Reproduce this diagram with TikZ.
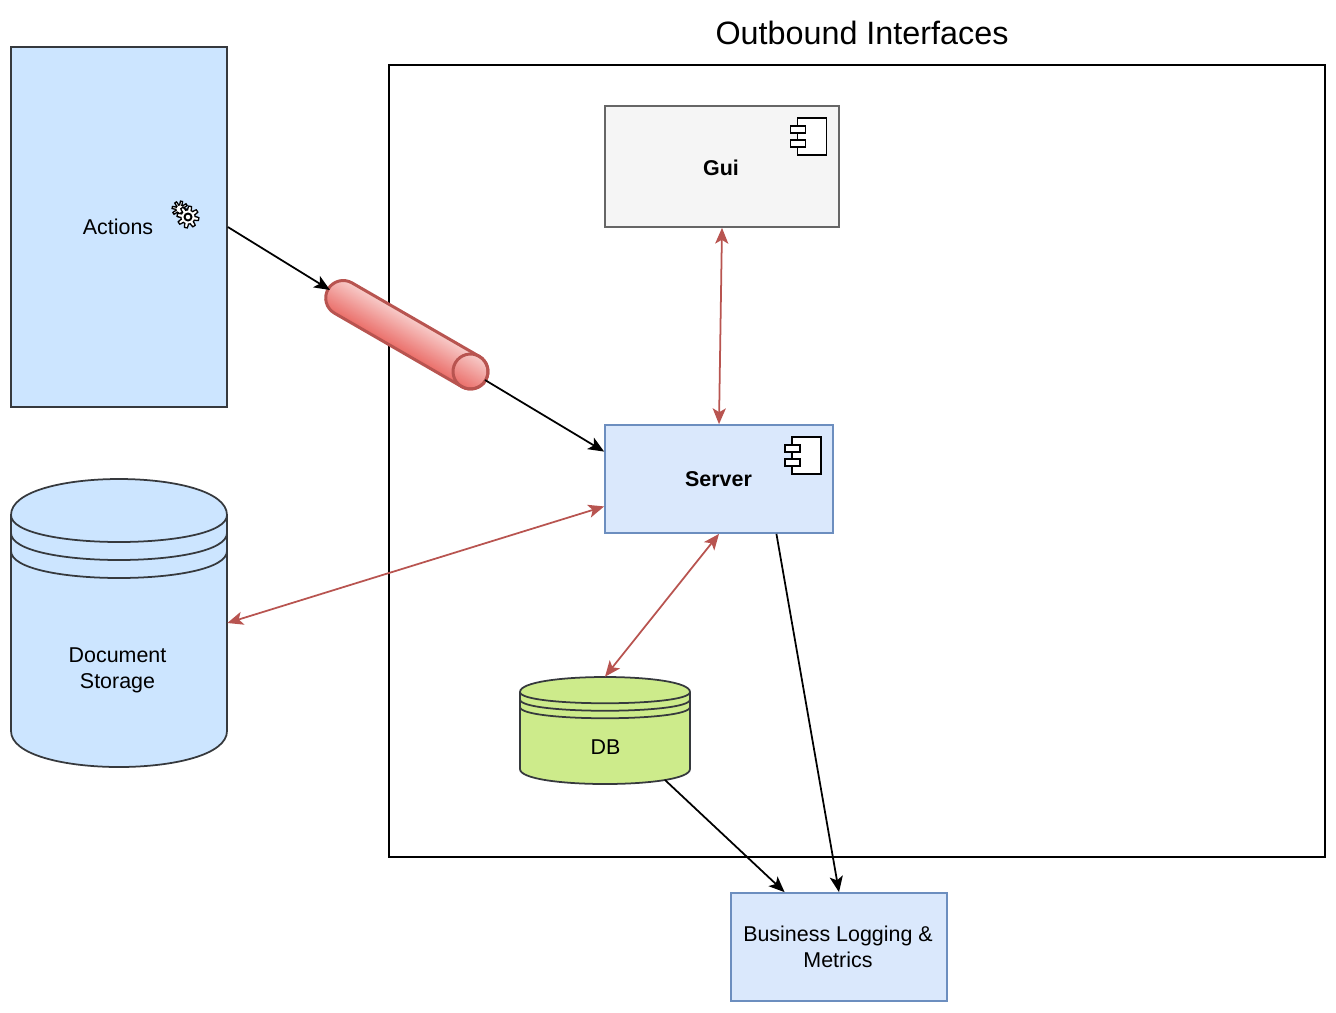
\documentclass[tikz,border=0pt]{standalone}
\usepackage{fontspec}
\setmainfont{Liberation Sans}
\usetikzlibrary{arrows.meta,calc}

\definecolor{actionblue}{HTML}{CCE5FF}
\definecolor{serverblue}{HTML}{DAE8FC}
\definecolor{serverline}{HTML}{6C8EBF}
\definecolor{guigray}{HTML}{F5F5F5}
\definecolor{guiline}{HTML}{666666}
\definecolor{darkline}{HTML}{36393D}
\definecolor{dbgreen}{HTML}{CDEB8B}
\definecolor{linkred}{HTML}{B85450}
\definecolor{pipelight}{HTML}{F8CECC}
\definecolor{pipedark}{HTML}{EA6B66}

\tikzset{
    boxnode/.style={draw, line width=1pt, inner sep=0pt, align=center, font=\fontsize{12.2}{14.8}\selectfont},
    textnode/.style={inner sep=0pt, align=center, font=\fontsize{12.2}{14.8}\selectfont},
    hullnode/.style={inner sep=0pt},
    blackline/.style={->, line width=1pt},
    redline/.style={<->, linkred, line width=1pt},
    pipeline/.style={linkred, line width=1.7pt}
}

% one cylinder with its three rings
\newcommand{\datastore}[6]{
    \filldraw[fill=#1, draw=darkline, line width=1pt]
        (#2,#3+#6) .. controls (#2,#3-#6/3) and (#2+#4,#3-#6/3) .. (#2+#4,#3+#6)
        -- (#2+#4,#3+#5-#6) .. controls (#2+#4,#3+#5+#6/3) and (#2,#3+#5+#6/3) .. (#2,#3+#5-#6) -- cycle;
    \foreach \ring in {1,1.5,2}
        \draw[darkline, line width=1pt]
            (#2,#3+\ring*#6) .. controls (#2,#3+\ring*#6+#6) and (#2+#4,#3+\ring*#6+#6) .. (#2+#4,#3+\ring*#6);
}

% the small component symbol
\newcommand{\compicon}[2]{
    \draw[fill=white, line width=1pt] (#1+7,#2) rectangle (#1+36,#2+37);
    \draw[fill=white, line width=1pt] (#1,#2+8) rectangle (#1+15,#2+15);
    \draw[fill=white, line width=1pt] (#1,#2+22) rectangle (#1+15,#2+29);
}

% one cog wheel
\newcommand{\cogwheel}[3]{
    \draw[fill=white, line width=0.75pt] plot[domain=0:360, samples=97]
        ({#1+(#3+1.9*sign(sin(8*\x)))*cos(\x)}, {#2+(#3+1.9*sign(sin(8*\x)))*sin(\x)}) -- cycle;
}

\begin{document}
\begin{tikzpicture}[x=0.02cm, y=-0.02cm, >={Stealth[length=9pt,width=7.5pt,inset=2.2pt]}]
    \useasboundingbox (0,0) rectangle (1336,1012);

    % big frame
    \node[draw, line width=1pt, inner sep=0pt, minimum width=18.72cm, minimum height=15.84cm] (frame) at (857,461) {};
    \node[textnode, font=\fontsize{18.4}{22}\selectfont] (title) at (862,33) {Outbound Interfaces};

    % boxes
    \node[boxnode, fill=actionblue, draw=darkline, minimum width=4.32cm, minimum height=7.2cm] (actions) at (119,227) {};
    \node[textnode] (actionstext) at (118,227) {Actions};
    \node[boxnode, fill=guigray, draw=guiline, minimum width=4.68cm, minimum height=2.42cm] (gui) at (722,166.5) {};
    \node[textnode, font=\fontsize{12.2}{14.8}\selectfont\bfseries] (guitext) at (721,168) {Gui};
    \node[boxnode, fill=serverblue, draw=serverline, minimum width=4.56cm, minimum height=2.16cm] (server) at (719,479) {};
    \node[textnode, font=\fontsize{12.2}{14.8}\selectfont\bfseries] (servertext) at (718.5,479) {Server};
    \node[boxnode, fill=serverblue, draw=serverline, minimum width=4.32cm, minimum height=2.16cm] (logging) at (839,947) {};
    \node[textnode] (loggingtext) at (838,947) {Business Logging \&\\Metrics};

    \compicon{790.5}{118}
    \compicon{785}{437}

    % cog wheels
    \cogwheel{180}{209}{6}
    \cogwheel{188}{217}{9}
    \draw[line width=1.1pt] (188,217) circle (3.5);

    % cylinders
    \datastore{actionblue}{11}{479}{216}{288}{36}
    \datastore{dbgreen}{520}{677}{170}{107}{15}
    \node[hullnode, minimum width=4.32cm, minimum height=5.76cm] (storage) at (119,623) {};
    \node[hullnode, minimum width=3.4cm, minimum height=2.14cm] (db) at (605,730.5) {};
    \node[textnode] (storagetext) at (117.5,670) {Document\\Storage};
    \node[textnode] (dbtext) at (605.5,747) {DB};

    % the pipe
    \coordinate (pipein) at (330,290);
    \coordinate (pipeout) at (485,380);
    \coordinate (dbout) at (665,780);
    \begin{scope}[shift={(470.5,371.5)}, rotate=-30, x=0.02cm, y=0.02cm]
        \begin{scope}
            \clip (-147,17.5) arc[start angle=90, end angle=270, radius=0.35cm]
                -- (0,-17.5) arc[start angle=-90, end angle=90, radius=0.35cm] -- cycle;
            \foreach \t [evaluate=\t as \mix using \t*100/36] in {0,...,36}
                \fill[color=pipedark!\mix!pipelight] (-170,18-\t) rectangle (30,-19);
        \end{scope}
        \draw[pipeline] (-147,17.5) arc[start angle=90, end angle=270, radius=0.35cm]
            -- (0,-17.5) arc[start angle=-90, end angle=90, radius=0.35cm] -- cycle;
        \draw[pipeline] (0,0) circle[radius=0.35cm];
    \end{scope}

    % connectors
    \draw[blackline] (actions.east) -- (pipein);
    \draw[blackline] (pipeout) -- ($(server.north west)!0.25!(server.south west)$);
    \draw[blackline] ($(server.south west)!0.75!(server.south east)$) -- (logging.north);
    \draw[blackline] (dbout) -- ($(logging.north west)!0.25!(logging.north east)$);
    \draw[redline] (gui.south) -- (server.north);
    \draw[redline] (storage.east) -- ($(server.north west)!0.75!(server.south west)$);
    \draw[redline] (server.south) -- (db.north);
\end{tikzpicture}
\end{document}
